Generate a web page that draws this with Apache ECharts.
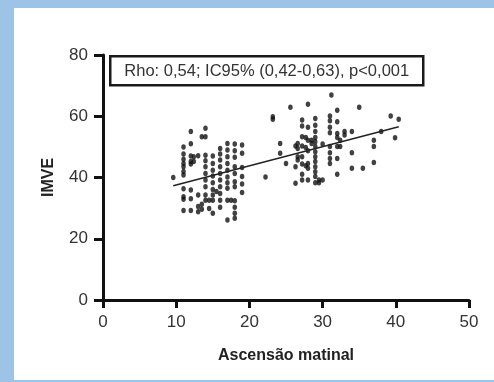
<!DOCTYPE html>
<html>
<head>
<meta charset="utf-8">
<script src="https://cdn.jsdelivr.net/npm/echarts@6/dist/echarts.min.js"></script>
<style>
  html, body { margin: 0; padding: 0; background: #9dc3e6; }
  #frame { position: absolute; left: 14px; top: 8px; width: 480px; height: 372px; background: #fff; }
  #chart { width: 480px; height: 372px; }
</style>
</head>
<body>
<div id="frame"><div id="chart"></div></div>
<script>
// x position of each column of points and the y values in that column
const colX = [
  9.6, 11, 12, 12.4, 13, 13.5, 14, 14.5, 15, 15.5, 16, 17, 17.5, 18, 19,
  22.2, 23.2, 24.2, 25, 25.6, 26.3, 26.6, 27.2, 27.7, 28, 28.5, 29, 29.5, 30,
  31, 31.2, 32, 32.4, 33, 34, 35, 35.5, 37, 38, 39.3, 39.9, 40.4
];
const colY = [
  [40],
  [50, 47.7, 46, 44.6, 43.5, 42, 40.8, 36.3, 33.7, 32.9, 29.2],
  [55, 51, 47, 45.2, 44.4, 35.9, 33.1, 29.2],
  [45.2, 46.8],
  [47.1, 34.3, 30.5, 28.8],
  [53.3, 31.3, 29.6],
  [56.1, 53.3, 47.3, 45.5, 43.5, 41.3, 39.2, 37, 34.3, 32.6],
  [32.6, 29.9],
  [47, 44.6, 42.4, 40.5, 38.3, 36.1, 34.3, 32.6, 28.3],
  [35.4],
  [49.5, 47.7, 45.7, 43.5, 41.3, 39.2, 37, 34.8, 32.6, 30.3],
  [51.1, 49, 46.8, 44.6, 42.4, 40.2, 38.3, 36.5, 32.6, 26.1],
  [32.6],
  [50.9, 48.7, 46.6, 43.5, 41.3, 38.6, 37, 32.4, 30.3, 28.3, 26.7],
  [50.6, 47.9, 43.3, 40.3, 37.9, 35.1],
  [40.2],
  [59.8, 59],
  [51.1, 47.9],
  [44.6],
  [62.9],
  [50.3, 43.5, 38.1],
  [51.1, 49.5, 46.8, 45.7],
  [58.8, 56.8, 53.3, 50.3, 46.8, 44.4, 41.1, 39.2],
  [53.1, 49.8, 43.8],
  [63.9, 56.4, 52.2, 48.7, 44.6, 43, 39.2],
  [52.2, 51.1],
  [59.3, 57.1, 55, 53.1, 51.7, 50.1, 48.4, 46.8, 45.2, 43.5, 41.9, 40.3, 38.3],
  [38.3, 39.2],
  [39.2, 50.9],
  [60.1, 58.5, 56.4, 54.6, 50.1, 48.1, 46.2, 44.6],
  [66.9],
  [62, 58.2, 54.4, 53.1, 50.1, 46.2, 41.1],
  [52.2, 50.1],
  [55, 53.9],
  [55, 48.1, 43],
  [62.9],
  [43],
  [52.2, 50.1, 44.9],
  [55],
  [60.1],
  [53],
  [59]
];
const fitX = [9.6, 40.4];
const fitY = [37.3, 56.6];
const annotation = 'Rho: 0,54; IC95% (0,42-0,63), p<0,001';

const points = [];
colX.forEach((x, i) => colY[i].forEach((y) => points.push([x, y])));

const nameFont = { fontFamily: 'Liberation Sans, Arial, sans-serif', fontWeight: 'bold', fontSize: 16, color: '#222' };
const tickFont = { fontFamily: 'Liberation Sans, Arial, sans-serif', fontSize: 17, color: '#333' };

const chart = echarts.init(document.getElementById('chart'));
chart.setOption({
  animation: false,
  grid: { left: 89, right: 25, top: 47, bottom: 80, containLabel: false, outerBoundsMode: 'none' },
  xAxis: {
    type: 'value',
    min: 0,
    max: 50,
    interval: 10,
    name: 'Ascensão matinal',
    nameLocation: 'middle',
    nameGap: 48,
    nameTextStyle: nameFont,
    axisLine: { onZero: false, lineStyle: { color: '#111', width: 3 } },
    axisTick: { length: 8, lineStyle: { color: '#111', width: 3 } },
    axisLabel: Object.assign({ margin: 14 }, tickFont),
    splitLine: { show: false }
  },
  yAxis: {
    type: 'value',
    min: 0,
    max: 80,
    interval: 20,
    name: 'IMVE',
    nameLocation: 'middle',
    nameGap: 46,
    nameTextStyle: nameFont,
    axisLine: { show: true, onZero: false, lineStyle: { color: '#111', width: 3 } },
    axisTick: { show: true, length: 9, lineStyle: { color: '#111', width: 3 } },
    axisLabel: Object.assign({ margin: 15 }, tickFont),
    splitLine: { show: false }
  },
  graphic: [
    {
      type: 'group',
      left: 95,
      top: 47,
      children: [
        { type: 'rect', shape: { x: 0, y: 0, width: 313, height: 29 }, style: { fill: '#fff', stroke: '#1a1a1a', lineWidth: 2.5 } },
        {
          type: 'text',
          x: 156.5,
          y: 15,
          style: {
            text: annotation,
            fontFamily: 'Liberation Sans, Arial, sans-serif',
            fontSize: 16.5,
            fill: '#333',
            align: 'center',
            verticalAlign: 'middle'
          }
        }
      ]
    }
  ],
  series: [
    {
      type: 'scatter',
      data: points,
      symbol: 'circle',
      symbolSize: [4.5, 5.5],
      itemStyle: { color: '#111' }
    },
    {
      type: 'line',
      data: fitX.map((x, i) => [x, fitY[i]]),
      symbol: 'none',
      lineStyle: { color: '#222', width: 1.5 },
      z: 3
    }
  ]
});
</script>
</body>
</html>
